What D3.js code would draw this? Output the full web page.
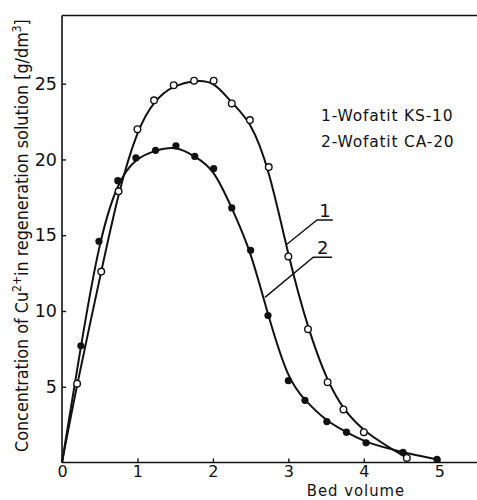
<!DOCTYPE html>
<html><head><meta charset="utf-8">
<script src="https://cdn.jsdelivr.net/npm/d3@7"></script>
<style>
html,body{margin:0;padding:0;background:#fff;}
svg{display:block;}
</style></head>
<body>
<svg id="chart" width="477" height="500"></svg>
<script>
// Series 1: Wofatit KS-10 (open circles); first entry is the curve origin (no marker)
const bedVolume1 = [0, 0.2, 0.52, 0.75, 1.0, 1.22, 1.48, 1.75, 2.01, 2.25, 2.49, 2.74, 3.0, 3.26, 3.52, 3.73, 4.0, 4.57];
const conc1      = [0, 5.2, 12.6, 17.9, 22.0, 23.9, 24.9, 25.2, 25.2, 23.7, 22.6, 19.5, 13.6, 8.8, 5.3, 3.5, 2.0, 0.3];
// Series 2: Wofatit CA-20 (filled circles)
const bedVolume2 = [0, 0.25, 0.49, 0.74, 0.98, 1.24, 1.51, 1.76, 2.01, 2.25, 2.5, 2.73, 3.0, 3.22, 3.51, 3.77, 4.03, 4.52, 4.97];
const conc2      = [0, 7.7, 14.6, 18.6, 20.1, 20.6, 20.9, 20.2, 19.4, 16.8, 14.0, 9.7, 5.4, 4.1, 2.7, 2.0, 1.3, 0.67, 0.2];

const xTicks = [0, 1, 2, 3, 4, 5];
const yTicks = [5, 10, 15, 20, 25];
const legendLines = ["1-Wofatit KS-10", "2-Wofatit CA-20"];
const curveLabels = ["1", "2"];
// leader lines in data units: [anchor on curve, elbow, end]
const leader1 = [[2.98, 14.4], [3.38, 16.0], [3.59, 16.0]];
const leader2 = [[2.69, 10.9], [3.33, 13.55], [3.58, 13.55]];

const svg = d3.select("#chart");
const x = d3.scaleLinear().domain([0, 5.5]).range([62, 477]);
const y = d3.scaleLinear().domain([0, 29.5]).range([462.5, 15.5]);

const tickFont = "DejaVu Sans";

// axes frame
const g = svg.append("g");
const xAxis = d3.axisBottom(x).tickValues(xTicks).tickSize(-4).tickPadding(3.5).tickFormat(d3.format("d"));
const gx = g.append("g").attr("transform", `translate(0,${y(0)})`).call(xAxis);
gx.select(".domain").attr("d", `M${x(0)},0H${x(5.5)}`);
const yAxis = d3.axisLeft(y).tickValues(yTicks).tickSize(-4).tickPadding(5).tickFormat(d3.format("d"));
const gy = g.append("g").attr("transform", `translate(${x(0)},0)`).call(yAxis);
gy.select(".domain").attr("d", `M0,${y(0)}V${y(29.5)}`);
[gx, gy].forEach(a => {
  a.select(".domain").attr("stroke", "#111").attr("stroke-width", 1.6);
  a.selectAll(".tick line").attr("stroke", "#111").attr("stroke-width", 1.4);
  a.selectAll(".tick text").attr("font-family", tickFont).attr("font-size", 17.5).attr("fill", "#111");
});
gx.selectAll(".tick text").attr("font-size", 16);
// top frame line
g.append("line").attr("x1", x(0)).attr("x2", x(5.5)).attr("y1", y(29.5)).attr("y2", y(29.5))
  .attr("stroke", "#111").attr("stroke-width", 1.6);

// curves
const line = d3.line().x(d => x(d[0])).y(d => y(d[1])).curve(d3.curveBasis);
const s1 = bedVolume1.map((b, i) => [b, conc1[i]]);
const s2 = bedVolume2.map((b, i) => [b, conc2[i]]);
svg.append("path").attr("d", line(s1)).attr("fill", "none").attr("stroke", "#111").attr("stroke-width", 2);
svg.append("path").attr("d", line(s2)).attr("fill", "none").attr("stroke", "#111").attr("stroke-width", 2);

svg.append("g").selectAll("circle").data(s2.slice(1)).join("circle")
  .attr("cx", d => x(d[0])).attr("cy", d => y(d[1])).attr("r", 3.6).attr("fill", "#111");
svg.append("g").selectAll("circle").data(s1.slice(1)).join("circle")
  .attr("cx", d => x(d[0])).attr("cy", d => y(d[1])).attr("r", 3.3)
  .attr("fill", "#fff").attr("stroke", "#111").attr("stroke-width", 1.4);

// leaders and curve labels
const lp = d3.line().x(d => x(d[0])).y(d => y(d[1]));
[leader1, leader2].forEach((L, i) => {
  svg.append("path").attr("d", lp(L)).attr("fill", "none").attr("stroke", "#111").attr("stroke-width", 1.4);
  svg.append("text").attr("x", (x(L[1][0]) + x(L[2][0])) / 2).attr("y", y(L[1][1]) - 3)
    .attr("text-anchor", "middle").attr("font-family", tickFont).attr("font-size", 18).attr("fill", "#111")
    .text(curveLabels[i]);
});

// legend text
svg.append("g").selectAll("text").data(legendLines).join("text")
  .attr("x", 321).attr("y", (d, i) => 121 + i * 26)
  .attr("font-family", "DejaVu Sans").attr("font-size", 15.5).attr("letter-spacing", 0.8).attr("fill", "#111")
  .text(d => d);

// x label
svg.append("text").attr("x", 356).attr("y", 496.2).attr("text-anchor", "middle")
  .attr("font-family", "DejaVu Sans Condensed, DejaVu Sans").attr("font-stretch", "condensed")
  .attr("font-size", 16.5).attr("letter-spacing", 1).attr("fill", "#111").text("Bed volume");

// y label
const yl = svg.append("text").attr("transform", "translate(28,452) rotate(-90)")
  .attr("font-family", "DejaVu Sans Condensed, DejaVu Sans").attr("font-stretch", "condensed")
  .attr("font-size", 17.8).attr("fill", "#111");
yl.append("tspan").text("Concentration of Cu");
yl.append("tspan").attr("dy", -7).attr("font-size", 12).text("2+");
yl.append("tspan").attr("dy", 7).text("in regeneration solution [g/dm");
yl.append("tspan").attr("dy", -7).attr("font-size", 12).text("3");
yl.append("tspan").attr("dy", 7).text("]");
</script>
</body></html>
